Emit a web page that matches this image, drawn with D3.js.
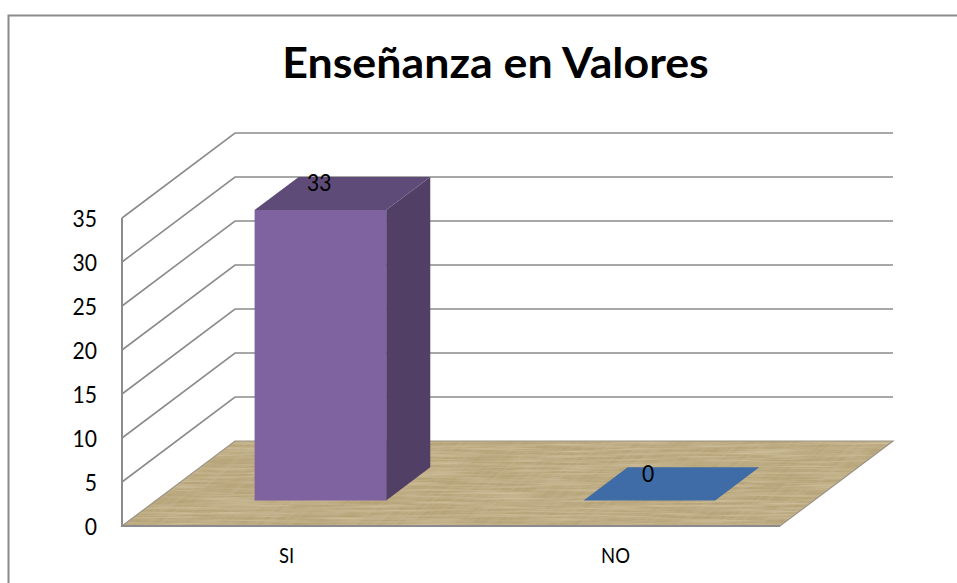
<!DOCTYPE html>
<html><head><meta charset="utf-8">
<script src="https://cdn.jsdelivr.net/npm/d3@7/dist/d3.min.js"></script>
<style>html,body{margin:0;padding:0;background:#fff}svg{display:block}text{font-family:Lato,"Open Sans",sans-serif;fill:#000}</style>
</head><body><svg id="c" width="957" height="583"></svg>
<script>
const chartTitle = "Enseñanza en Valores";
const categories = ["SI", "NO"];
const values = [33, 0];
const barColors = ["#7F63A1", "#3F6CA6"];
const topColors = ["#5F4B78", "#3F6CA6"];
const sideColors = ["#523F66", "#3F6CA6"];
const yTicks = [0, 5, 10, 15, 20, 25, 30, 35];

const W = 957, H = 583;
const svg = d3.select("#c");
const left = 122, right = 780, base = 526, top35 = 218;
const dx = 113, dy = -85;              // projection of the full floor depth
const y = d3.scaleLinear().domain([0, 35]).range([base, top35]);
const x = d3.scaleBand().domain(categories).range([left, right]).paddingInner(0.6).paddingOuter(0.3);
const P = (px, py, t) => [px + dx * t, py + dy * t];
const line = d3.line();
const poly = pts => line(pts) + "Z";
const floorPts = [[left, base], [right, base], P(right, base, 1), P(left, base, 1)];

// Text squeezed to the reference's narrower letterforms
function label(g, tx, ty, sx, txt) {
  return g.append("text").attr("transform", `translate(${tx},${ty}) scale(${sx},1)`).text(txt);
}

// Texture for the floor
const defs = svg.append("defs");
defs.append("clipPath").attr("id", "floorClip").append("path").attr("d", poly(floorPts));
function streak(id, freq, seed, rgb, gain, off) {
  const f = defs.append("filter").attr("id", id).attr("filterUnits", "userSpaceOnUse")
    .attr("x", -400).attr("y", -400).attr("width", 1800).attr("height", 1400);
  f.append("feTurbulence").attr("type", "fractalNoise").attr("baseFrequency", freq).attr("numOctaves", 3).attr("seed", seed);
  f.append("feColorMatrix").attr("type", "matrix")
    .attr("values", `0 0 0 0 ${rgb[0]}  0 0 0 0 ${rgb[1]}  0 0 0 0 ${rgb[2]}  ${gain} 0 0 0 ${off}`);
}
streak("hDark", "0.012 0.5", 4, [0.56, 0.46, 0.28], 1.1, -0.40);
streak("hLight", "0.015 0.4", 11, [0.76, 0.67, 0.46], 1.1, -0.42);
streak("dDark", "0.012 0.35", 7, [0.56, 0.46, 0.30], 1.2, -0.46);

// Chart frame
svg.append("path").attr("d", line([[8.5, H], [8.5, 15.5], [W, 15.5]])).attr("fill", "none").attr("stroke", "#8a8a8a").attr("stroke-width", 2);

// Title
const titleG = svg.append("g").attr("font-size", 42).attr("font-weight", 700).attr("text-anchor", "middle");
label(titleG, 495.5, 78, 1.066, chartTitle);

// Gridlines (side wall and back wall)
const grid = svg.append("g").attr("fill", "none").attr("stroke", "#8c8c8c").attr("stroke-width", 1.6);
grid.selectAll("path").data(yTicks.filter(d => d > 0)).enter().append("path")
  .attr("d", d => line([[left, y(d)], P(left, y(d), 1), P(right, y(d), 1)]));
grid.append("line").attr("x1", left).attr("x2", left).attr("y1", y(35)).attr("y2", base).attr("stroke-width", 2);

// Floor
const floor = svg.append("g").attr("clip-path", "url(#floorClip)");
floor.append("path").attr("d", poly(floorPts)).attr("fill", "#B5A276");
floor.append("rect").attr("x", 0).attr("y", 420).attr("width", 957).attr("height", 120).attr("filter", "url(#hDark)");
floor.append("rect").attr("x", 0).attr("y", 420).attr("width", 957).attr("height", 120).attr("filter", "url(#hLight)");
floor.append("rect").attr("x", 0).attr("y", 0).attr("width", 1100).attr("height", 600)
  .attr("transform", "rotate(-38 500 480)").attr("filter", "url(#dDark)");
svg.append("path").attr("d", poly(floorPts)).attr("fill", "none").attr("stroke", "#9a9484").attr("stroke-width", 1.2);
svg.append("line").attr("x1", left - 1).attr("x2", right).attr("y1", base).attr("y2", base).attr("stroke", "#8c8c8c").attr("stroke-width", 2);

// Bars
const t0 = 0.30, t1 = 0.69;
const bars = svg.append("g").selectAll("g").data(categories.map((c, i) => ({c, v: values[i], i}))).enter().append("g")
  .attr("font-size", 24).attr("text-anchor", "middle");
bars.each(function(d) {
  const g = d3.select(this);
  const x0 = x(d.c), x1 = x0 + x.bandwidth(), topY = y(d.v);
  const A = (px, py) => P(px, py, t0), B = (px, py) => P(px, py, t1);
  if (d.v > 0) {
    g.append("path").attr("d", poly([A(x1, base), B(x1, base), B(x1, topY), A(x1, topY)])).attr("fill", sideColors[d.i]);
    g.append("path").attr("d", poly([A(x0, base), A(x1, base), A(x1, topY), A(x0, topY)])).attr("fill", barColors[d.i]);
  }
  g.append("path").attr("d", poly([A(x0, topY), A(x1, topY), B(x1, topY), B(x0, topY)])).attr("fill", topColors[d.i]);
  label(g, x0 + 98.5, topY - 44.5, 0.88, d.v);
});

// Axis labels
const yAxis = svg.append("g").attr("text-anchor", "end").attr("font-size", 24);
yTicks.forEach(d => label(yAxis, 97, y(d) + 9, 0.88, d));
const xAxis = svg.append("g").attr("text-anchor", "middle").attr("font-size", 21);
categories.forEach(c => label(xAxis, x(c) + x.bandwidth() / 2, 563, 0.88, c));
</script></body></html>
